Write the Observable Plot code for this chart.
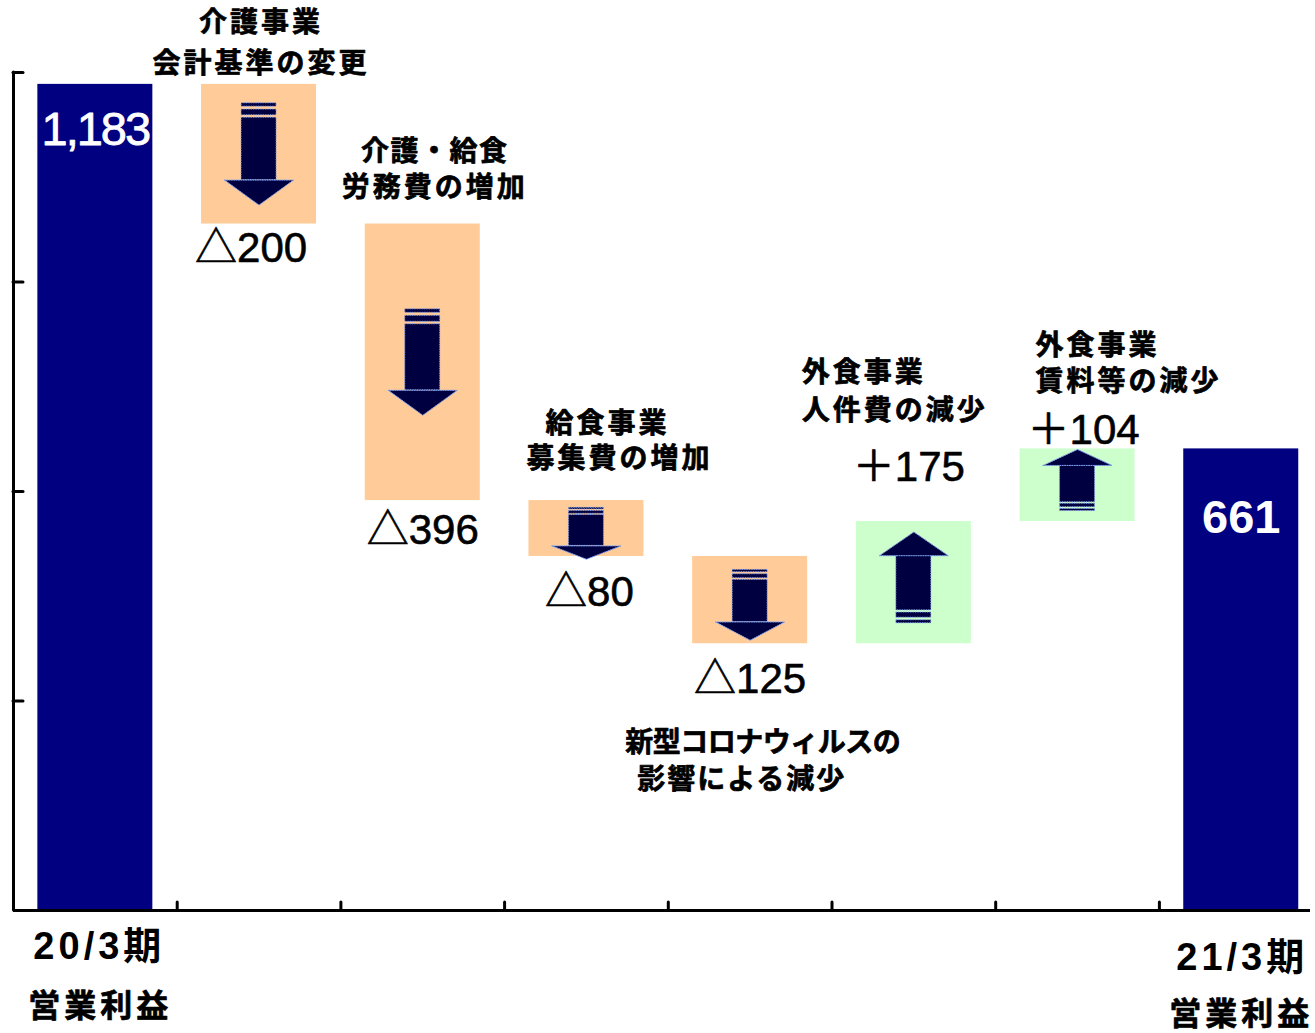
<!DOCTYPE html>
<html>
<head>
<meta charset="utf-8">
<script src="https://cdn.jsdelivr.net/npm/d3@7"></script>
<script src="https://cdn.jsdelivr.net/npm/@observablehq/plot@0.6"></script>
<style>
  html, body { margin: 0; padding: 0; background: #ffffff; }
  #chart { position: absolute; left: 0; top: 0; }
</style>
</head>
<body>
<div id="chart"></div>
<script>
// ---------------- data ----------------
const categories = [
  "20/3期 営業利益",
  "介護事業 会計基準の変更",
  "介護・給食 労務費の増加",
  "給食事業 募集費の増加",
  "新型コロナウィルスの影響による減少",
  "外食事業 人件費の減少",
  "外食事業 賃料等の減少",
  "21/3期 営業利益"
];
const values = [1183, -200, -396, -80, -125, 175, 104, 661];
const isTotal = [true, false, false, false, false, false, false, true];
const valueLabels = ["1,183", "△200", "△396", "△80", "△125", "＋175", "＋104", "661"];
const noteLine1 = [null, "介護事業", "介護・給食", "給食事業", "新型コロナウィルスの", "外食事業", "外食事業", null];
const noteLine2 = [null, "会計基準の変更", "労務費の増加", "募集費の増加", "影響による減少", "人件費の減少", "賃料等の減少", null];
const periodLabels = ["20/3期", "", "", "", "", "", "", "21/3期"];
const profitLabels = ["営業利益", "", "", "", "", "", "", "営業利益"];
const yTicks = [0, 300, 600, 900, 1200];

// ---------------- derived table ----------------
let running = 0;
const steps = values.map((v, i) => {
  let y1, y2;
  if (isTotal[i]) { y1 = 0; y2 = v; running = v; }
  else { y1 = running; y2 = running + v; running += v; }
  return {i, name: categories[i], value: v, total: isTotal[i],
          top: Math.max(y1, y2), bottom: Math.min(y1, y2), label: valueLabels[i]};
});
const deltas = steps.filter(d => !d.total);
const totals = steps.filter(d => d.total);

// ---------------- layout ----------------
const W = 1315, H = 1033;
const marginTop = 72, marginBottom = 123, marginLeft = 13, marginRight = 5;
const stepPx = 163.7;
const xMax = -0.5 + (W - marginRight - marginLeft) / stepPx;
const yMax = 1200;
const pxPerUnit = (H - marginTop - marginBottom) / yMax;
const ux = px => px / stepPx;
const uy = px => px / pxPerUnit;

const barHalf = ux(57.5);
const shaftHalf = ux(17.5);
const headHalf = ux(34.5);

// arrows: decorative shapes derived from each step, drawn through the scales
const shafts = [], stripes = [], heads = [];
for (const d of deltas) {
  const dir = d.value > 0 ? 1 : -1;
  const hPx = (d.top - d.bottom) * pxPerUnit;
  const L = Math.min(106, 0.6 * hPx + 18);
  const Hh = Math.min(25, 0.26 * L);
  const k = L / 106;
  const shift = L < 100 ? 5 : 0;
  const centerV = (d.top + d.bottom) / 2 + dir * uy(shift);
  const tail = centerV - dir * uy(L / 2);
  const at = t => tail + dir * uy(t);
  stripes.push({x1: d.i - shaftHalf, x2: d.i + shaftHalf, y1: at(0), y2: at(3.5 * k)});
  stripes.push({x1: d.i - shaftHalf, x2: d.i + shaftHalf, y1: at(6.5 * k), y2: at(12.5 * k)});
  shafts.push({x1: d.i - shaftHalf, x2: d.i + shaftHalf, y1: at(15 * k), y2: at(L - Hh)});
  const base = at(L - Hh), tip = at(L);
  heads.push({id: d.i, x: d.i - headHalf, y: base});
  heads.push({id: d.i, x: d.i, y: tip});
  heads.push({id: d.i, x: d.i + headHalf, y: base});
  heads.push({id: d.i, x: d.i - headHalf, y: base});
}

const arrowFill = "#000040";
const arrowEdge = {stroke: "#7f9fef", strokeWidth: 1, strokeDasharray: "1.2 1.2"};
const numFont = "Liberation Sans, Arial, Noto Sans CJK JP, sans-serif";
const jpFont = "Noto Sans CJK JP, sans-serif";

// placements (pixels relative to box top / bottom)
const notePlace = {
  1: {ref: "top", anchor: "middle", dx: [2, 2], dy: [-61, -20]},
  2: {ref: "top", anchor: "middle", dx: [12, 12], dy: [-72, -36]},
  3: {ref: "top", anchor: "middle", dx: [21, 33], dy: [-77, -42]},
  4: {ref: "bottom", anchor: "start", dx: [-125, -113], dy: [99, 136]},
  5: {ref: "top", anchor: "start", dx: [-112, -112], dy: [-148, -110]},
  6: {ref: "top", anchor: "start", dx: [-42, -42], dy: [-103, -67]}
};
const valuePlace = {
  1: {ref: "bottom", dx: -8, dy: 25},
  2: {ref: "bottom", dx: 0, dy: 30},
  3: {ref: "bottom", dx: 3, dy: 36},
  4: {ref: "bottom", dx: 0, dy: 36},
  5: {ref: "top", dx: -5, dy: -54},
  6: {ref: "top", dx: 6, dy: -18}
};

const noteMarks = [];
for (const d of deltas) {
  const p = notePlace[d.i];
  [noteLine1[d.i], noteLine2[d.i]].forEach((line, j) => {
    noteMarks.push(Plot.text([d], {
      x: "i", y: p.ref, text: () => line,
      dx: p.dx[j], dy: p.dy[j], textAnchor: p.anchor,
      fontSize: 28, fontWeight: "bold", fontFamily: jpFont, fill: "#000",
      stroke: "#000", strokeWidth: 0.7
    }));
  });
  const v = valuePlace[d.i];
  noteMarks.push(Plot.text([d], {
    x: "i", y: v.ref, text: "label", dx: v.dx, dy: v.dy,
    fontSize: 42, fontFamily: numFont, fill: "#000", stroke: "#000", strokeWidth: 0.6
  }));
}

const chart = Plot.plot({
  width: W, height: H,
  marginTop, marginBottom, marginLeft, marginRight,
  style: {background: "#ffffff"},
  x: {type: "linear", domain: [-0.5, xMax], axis: null},
  y: {domain: [0, yMax], axis: null},
  marks: [
    Plot.rect(totals, {x1: d => d.i - barHalf, x2: d => d.i + barHalf, y1: "bottom", y2: "top", fill: "#000080"}),
    Plot.rect(deltas, {x1: d => d.i - barHalf, x2: d => d.i + barHalf, y1: "bottom", y2: "top",
      fill: d => d.value < 0 ? "#FFCC99" : "#CCFFCC"}),
    Plot.rect(stripes, {x1: "x1", x2: "x2", y1: "y1", y2: "y2", fill: arrowFill, ...arrowEdge}),
    Plot.rect(shafts, {x1: "x1", x2: "x2", y1: "y1", y2: "y2", fill: arrowFill, ...arrowEdge}),
    Plot.line(heads, {x: "x", y: "y", z: "id", fill: arrowFill, ...arrowEdge}),
    // axes
    Plot.ruleX([-0.5], {y1: 0, y2: yMax, strokeWidth: 3, stroke: "#000", strokeLinecap: "round"}),
    Plot.ruleY([0], {strokeWidth: 3, stroke: "#000"}),
    Plot.ruleY(yTicks.filter(t => t > 0), {x1: -0.5, x2: -0.5 + ux(10), strokeWidth: 3, stroke: "#000", strokeLinecap: "round"}),
    Plot.ruleX(d3.range(0.5, 7, 1), {y1: 0, y2: uy(8), strokeWidth: 3, stroke: "#000", strokeLinecap: "round"}),
    // total labels inside bars
    Plot.text([totals[0]], {x: "i", y: "top", text: "label", dy: 46, fontSize: 47, fontFamily: numFont, fill: "#fff", stroke: "#fff", strokeWidth: 0.8}),
    Plot.text([totals[1]], {x: "i", y: "top", text: "label", dy: 69, fontSize: 47, fontWeight: "bold", fontFamily: numFont, fill: "#fff"}),
    // category labels under axis
    Plot.text([totals[0]], {x: "i", y: 0, text: d => periodLabels[d.i], dx: 4, dy: 36, fontSize: 38, fontWeight: "bold", fontFamily: numFont, fill: "#000"}),
    Plot.text([totals[0]], {x: "i", y: 0, text: d => profitLabels[d.i], dx: 5, dy: 96, fontSize: 32, fontWeight: "bold", fontFamily: jpFont, fill: "#000", stroke: "#000", strokeWidth: 0.7}),
    Plot.text([totals[1]], {x: "i", y: 0, text: d => periodLabels[d.i], dx: 1, dy: 47, fontSize: 38, fontWeight: "bold", fontFamily: numFont, fill: "#000"}),
    Plot.text([totals[1]], {x: "i", y: 0, text: d => profitLabels[d.i], dx: 0, dy: 104, fontSize: 32, fontWeight: "bold", fontFamily: jpFont, fill: "#000", stroke: "#000", strokeWidth: 0.7}),
    ...noteMarks
  ]
});
document.getElementById("chart").appendChild(chart);

// letter spacing adjustments by text role
const noteSet = new Set([...noteLine1, ...noteLine2].filter(Boolean));
const periodSet = new Set(periodLabels.filter(Boolean));
const profitSet = new Set(profitLabels.filter(Boolean));
const specialSpacing = {"新型コロナウィルスの": "-0.5px", "影響による減少": "2px", "介護・給食": "1.5px"};
d3.select(chart).selectAll("text").each(function () {
  const t = this.textContent;
  if (specialSpacing[t]) this.style.letterSpacing = specialSpacing[t];
  else if (noteSet.has(t)) this.style.letterSpacing = "3px";
  else if (periodSet.has(t)) this.style.letterSpacing = "4px";
  else if (profitSet.has(t)) this.style.letterSpacing = "4px";
  else if (t === valueLabels[0]) this.style.letterSpacing = "-2px";
});
</script>
</body>
</html>
